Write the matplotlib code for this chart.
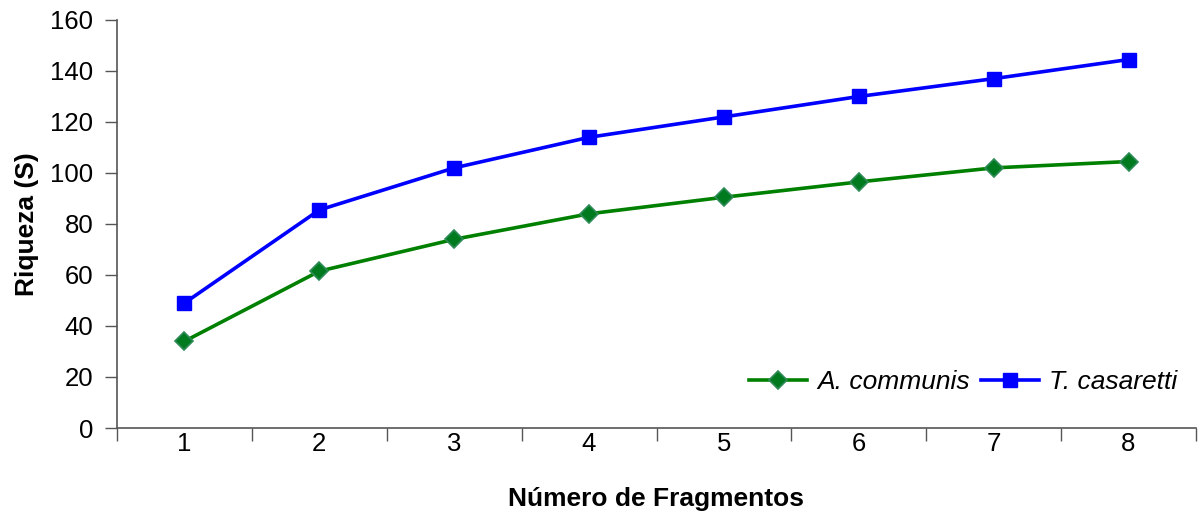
import matplotlib.pyplot as plt
from matplotlib.ticker import FixedLocator

plt.rcParams['font.family'] = ['Liberation Sans', 'DejaVu Sans']

# Riqueza acumulada por numero de fragmentos
fragmentos = [1, 2, 3, 4, 5, 6, 7, 8]
a_communis = [34, 61.5, 74, 84, 90.5, 96.5, 102, 104.5]
t_casaretti = [49, 85.5, 102, 114, 122, 130, 137, 144.5]

fig = plt.figure(figsize=(12.01, 5.29), dpi=100)
ax = fig.add_axes([117 / 1201, 1 - 428 / 529, (1196 - 117) / 1201, (428 - 20) / 529])

ax.plot(fragmentos, a_communis, color='#008000', linewidth=2.6,
        marker='D', markersize=9, markerfacecolor='#007a1f',
        markeredgecolor='#2e8b57', markeredgewidth=1.2, label='A. communis')
ax.plot(fragmentos, t_casaretti, color='#0000ff', linewidth=2.6,
        marker='s', markersize=10, markerfacecolor='#0000ff',
        markeredgecolor='#0000ff', label='T. casaretti')

ax.set_xlim(0.5, 8.5)
ax.set_ylim(0, 160)
ax.set_yticks(range(0, 161, 20))
ax.set_xticks(fragmentos)
ax.xaxis.set_minor_locator(FixedLocator([x + 0.5 for x in range(0, 9)]))
ax.tick_params(axis='x', which='major', length=0, pad=3, labelsize=18.5)
ax.tick_params(axis='x', which='minor', length=9, width=1, color='#555555', direction='out')
ax.tick_params(axis='y', length=9, width=1, color='#555555', pad=8, labelsize=18.5)

for side in ['top', 'right']:
    ax.spines[side].set_visible(False)
for side in ['left', 'bottom']:
    ax.spines[side].set_color('#555555')
    ax.spines[side].set_linewidth(1.2)

ax.set_xlabel('Número de Fragmentos', fontsize=19, fontweight='bold', labelpad=22)
ax.set_ylabel('Riqueza (S)', fontsize=19, fontweight='bold', labelpad=8)

leg = ax.legend(loc='lower right', ncol=2, frameon=False,
                prop={'style': 'italic', 'size': 19}, handlelength=2.2,
                columnspacing=0.4, handletextpad=0.4, bbox_to_anchor=(1.005, 0.025))

fig.savefig('out.png', dpi=100)
